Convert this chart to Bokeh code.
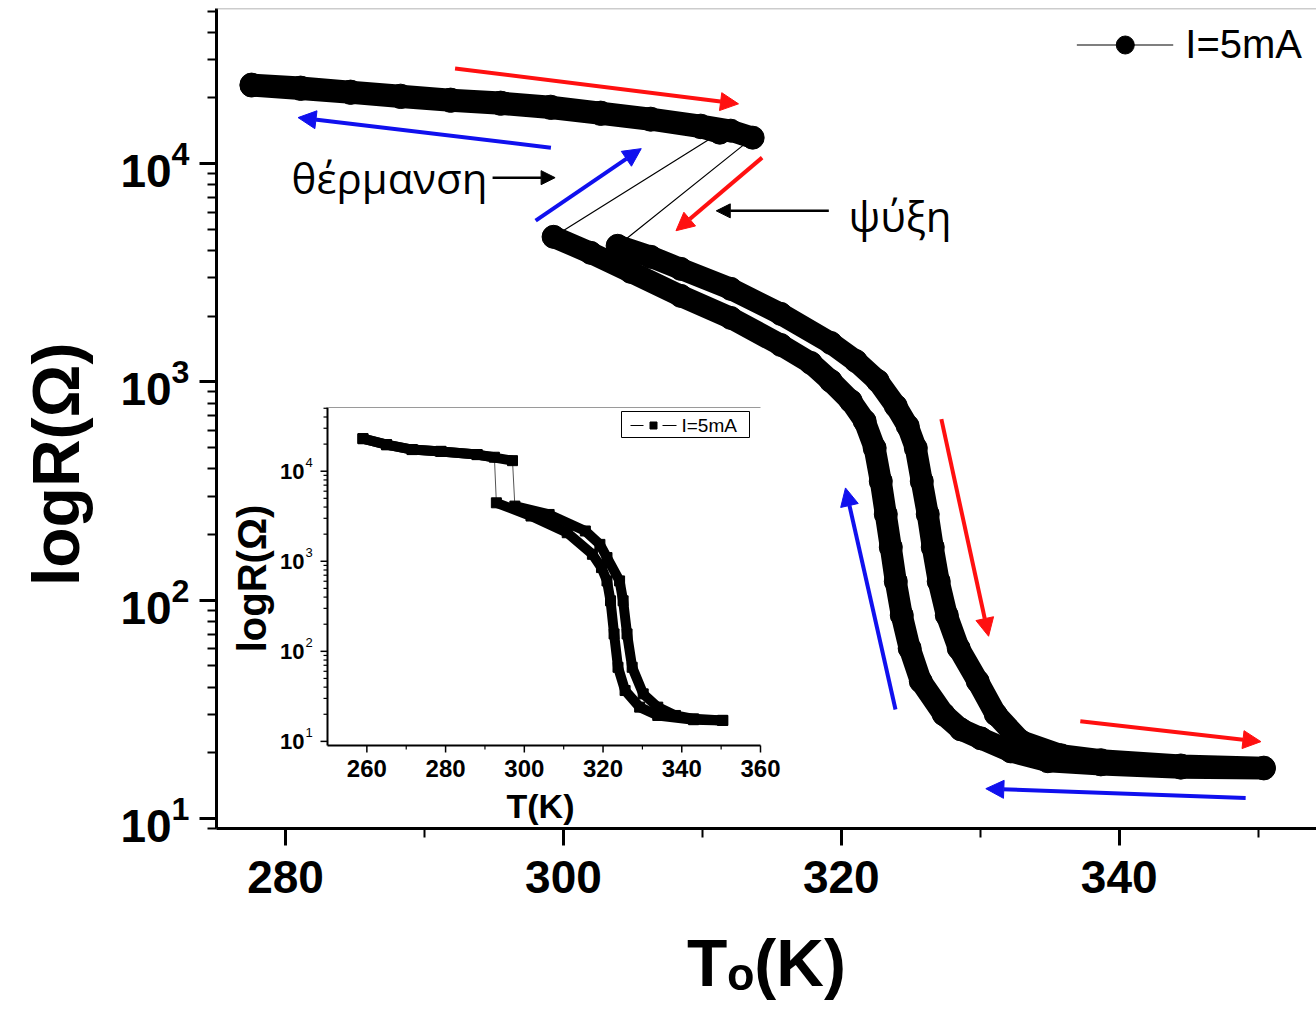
import math
from bokeh.plotting import figure
from bokeh.models import (Range1d, LogScale, FixedTicker, Arrow, NormalHead, Label,
                          Legend, LegendItem, Span)
from bokeh.core.properties import value
from bokeh.embed import file_html
from bokeh.resources import INLINE

# ---------------- main panel: R versus T_o, I = 5 mA ----------------
# heating: insulating branch, then the metallic branch after the jump
heat_upper_T = [277.55, 281.08, 284.68, 288.28, 291.88, 295.48, 299.08, 302.68,
                306.28, 309.88, 312.04, 313.62]
heat_upper_R = [23040, 22320, 21390, 20500, 19660, 19050, 18250, 17140,
                16080, 14940, 14170, 13160]
heat_lower_T = [303.90, 306.28, 308.44, 312.04, 315.64, 319.24, 321.04, 322.62, 323.92,
                324.78, 325.36, 325.79, 326.22, 326.58, 327.01, 327.59, 328.45, 329.82,
                331.12, 332.92, 335.80, 338.68, 344.43, 350.41]
heat_lower_R = [4206, 3745, 3298, 2671, 2051, 1510, 1248, 1011, 776,
                628, 498, 351, 248, 175, 122, 85.4, 60.2, 42.5,
                30.0, 22.6, 19.5, 18.5, 17.5, 17.1]
# cooling: metallic branch back down, then the jump up to the insulating branch
cool_lower_T = [350.41, 344.43, 338.68, 334.86, 332.20, 330.04, 328.60, 327.37, 325.72,
                324.92, 324.35, 323.92, 323.56, 323.20, 322.84, 322.40, 321.68, 320.68,
                319.24, 317.80, 315.64, 312.04, 308.44, 304.84, 301.96, 299.29]
cool_lower_R = [16.96, 17.1, 17.7, 18.3, 20.3, 23.3, 25.6, 30.0, 42.5,
                60.2, 85.4, 122, 175, 248, 351, 498, 662, 818,
                1011, 1223, 1478, 1966, 2480, 3196, 3905, 4624]
cool_upper_T = [311.25, 309.88, 306.28, 302.68, 299.08, 295.48, 291.88, 288.28,
                284.68, 281.08, 277.55]
cool_upper_R = [13870, 14700, 15900, 16900, 18000, 18800, 19400, 20200,
                21100, 22000, 22800]

# ---------------- inset: R versus T ----------------
ins_heat_upper_T = [259.0, 265.0, 271.5, 278.8, 288.0, 297.0]
ins_heat_upper_R = [23000, 19700, 17400, 16600, 15300, 13100]
ins_heat_lower_T = [297.6, 306.3, 315.5, 319.2, 321.0, 324.2, 325.1, 326.1, 327.4, 330.2,
                    333.9, 338.4, 343.0, 350.4]
ins_heat_lower_R = [4100, 3310, 2170, 1540, 1100, 605, 364, 156, 66.5, 33.7,
                    24.0, 19.4, 17.8, 17.1]
ins_cool_lower_T = [350.4, 343.0, 333.9, 329.3, 325.6, 323.8, 322.8, 321.9, 321.0,
                    319.6, 317.3, 310.9, 301.7, 292.9]
ins_cool_lower_R = [17.1, 17.4, 19.4, 24.0, 36.7, 66.5, 156, 364, 605,
                    851, 1195, 2075, 3180, 4460]
ins_cool_upper_T = [292.4, 288.0, 278.8, 271.5, 265.0, 259.0]
ins_cool_upper_R = [14300, 15300, 16600, 17400, 19700, 23000]

main_x_ticks = [280, 300, 320, 340]
main_x_minor = [290, 310, 330, 350]
inset_x_ticks = [260, 280, 300, 320, 340, 360]
inset_x_minor = [270, 290, 310, 330, 350]
decades = [1, 2, 3, 4]
series_label = "I=5mA"

# ---------------- layout ----------------
W, H = 1316, 1017
FL, FR, FT, FB = 216, 1316, 8, 828          # plot frame on the canvas
X0, X1 = 275.03, 354.2
Y0, Y1 = 9.0, 51400.0

IN_L, IN_R, IN_T, IN_B = 327, 760, 407, 745  # inset box on the canvas
IX0, IX1 = 250.0, 360.0
IY0, IY1 = 9.0, 51000.0

BOLD = "Liberation Sans"
NBSP = "\u00a0"


def main_x(px):
    return X0 + (px - FL) * (X1 - X0) / (FR - FL)


def main_y(py):
    a, b = math.log10(Y0), math.log10(Y1)
    return 10 ** (b - (py - FT) * (b - a) / (FB - FT))


kx = (IX1 - IX0) / (IN_R - IN_L)
ky = (math.log10(IY1) - math.log10(IY0)) / (IN_B - IN_T)


def inset_x(px):
    return IX0 + (px - IN_L) * kx


def inset_y(py):
    return 10 ** (math.log10(IY1) - (py - IN_T) * ky)


p = figure(width=W, height=H, title=None,
           x_range=Range1d(X0, X1), y_range=Range1d(Y0, Y1), y_axis_type="log",
           output_backend="svg", toolbar_location=None,
           min_border_left=FL, min_border_right=W - FR,
           min_border_top=FT, min_border_bottom=H - FB)
p.outline_line_color = None
p.xgrid.visible = False
p.ygrid.visible = False
p.background_fill_color = "white"
p.border_fill_color = "white"

# inset coordinate system shares the frame
p.extra_x_ranges = {"inset": Range1d(inset_x(FL), inset_x(FR))}
p.extra_y_ranges = {"inset": Range1d(inset_y(FB), inset_y(FT))}
p.extra_y_scales = {"inset": LogScale()}

# ---------------- main axes ----------------
for ax in (p.xaxis[0], p.yaxis[0]):
    ax.axis_line_width = 3
    ax.axis_line_color = "black"
    ax.major_tick_line_width = 3
    ax.minor_tick_line_width = 2
    ax.major_tick_in = 0
    ax.major_tick_out = 17
    ax.minor_tick_in = 0
    ax.minor_tick_out = 9
    ax.major_label_text_font = BOLD
    ax.major_label_text_font_style = "bold"
    ax.major_label_text_font_size = "46px"
    ax.major_label_text_color = "black"
    ax.axis_label_text_font = BOLD
    ax.axis_label_text_font_style = "bold"
    ax.axis_label_text_color = "black"

p.xaxis.ticker = FixedTicker(ticks=main_x_ticks, minor_ticks=main_x_minor)
p.xaxis.major_label_standoff = 15
p.xaxis.axis_label = "T\u2092(K)"
p.xaxis.axis_label_text_font_size = "66px"
p.xaxis.axis_label_standoff = 30

minor_log = [m * 10 ** k for k in range(0, 5) for m in range(2, 10)]
p.yaxis.ticker = FixedTicker(ticks=[10 ** k for k in decades], minor_ticks=minor_log)
p.yaxis.major_label_standoff = 10
# trailing no-break spaces lower the rotated title a little below the frame centre
p.yaxis.axis_label = "logR(Ω)" + NBSP * 5
p.yaxis.axis_label_text_font_size = "66px"
p.yaxis.axis_label_standoff = 24

p.add_layout(Span(location=Y1, dimension="width", line_color="#9a9a9a", line_width=1.5))

# ---------------- main curves ----------------
thin = p.line(heat_upper_T + heat_lower_T, heat_upper_R + heat_lower_R,
              line_width=1.2, line_color="black")
p.line(cool_lower_T + cool_upper_T, cool_lower_R + cool_upper_R,
       line_width=1.2, line_color="black")
for T, R in ((heat_upper_T, heat_upper_R), (heat_lower_T, heat_lower_R),
             (cool_lower_T, cool_lower_R), (cool_upper_T, cool_upper_R)):
    p.line(T, R, line_width=22, line_color="black", line_cap="round", line_join="round")
dots = p.scatter(heat_upper_T + heat_lower_T + cool_lower_T + cool_upper_T,
                 heat_upper_R + heat_lower_R + cool_lower_R + cool_upper_R,
                 marker="circle", size=23, fill_color="black", line_color="black")

legend = Legend(items=[LegendItem(label=series_label, renderers=[thin, dots])],
                location="top_right", border_line_color=None, background_fill_alpha=0,
                label_text_font="Liberation Sans", label_text_font_size="40px",
                label_text_color="black",
                glyph_width=97, glyph_height=45, margin=14, padding=8, label_standoff=12)
p.add_layout(legend)

# ---------------- direction arrows ----------------
RED, BLUE = "#ff1010", "#1010ee"
arrows = [
    (292.2, 27300, 312.6, 18800, RED),
    (299.1, 11840, 280.9, 16260, BLUE),
    (298.0, 5480, 305.6, 11720, BLUE),
    (314.3, 10660, 308.1, 4930, RED),
    (327.2, 676, 330.6, 68.4, RED),
    (323.9, 31.6, 320.3, 327, BLUE),
    (337.2, 27.9, 350.2, 22.5, RED),
    (349.1, 12.4, 330.4, 13.7, BLUE),
]
for xs, ys, xe, ye, c in arrows:
    p.add_layout(Arrow(x_start=xs, y_start=ys, x_end=xe, y_end=ye, line_color=c,
                       line_width=4, end=NormalHead(size=18, fill_color=c, line_color=c)))

for xs, ys, xe, ye in ((294.9, 8630, 299.4, 8630), (319.1, 6080, 311.0, 6080)):
    p.add_layout(Arrow(x_start=xs, y_start=ys, x_end=xe, y_end=ye, line_color="black",
                       line_width=2.5, end=NormalHead(size=14, fill_color="black",
                                                      line_color="black")))

p.add_layout(Label(x=main_x(487), y=main_y(177), text="θέρμανση", text_align="right",
                   text_baseline="middle", text_font="Open Sans", text_font_size="42px",
                   text_color="black"))
p.add_layout(Label(x=main_x(848), y=main_y(215), text="ψύξη", text_align="left",
                   text_baseline="middle", text_font="Open Sans", text_font_size="42px",
                   text_color="black"))

# ---------------- inset ----------------
ins = dict(x_range_name="inset", y_range_name="inset")
p.quad(left=[IX0], right=[IX1], bottom=[IY0], top=[IY1], fill_color="white",
       line_color=None, **ins)
p.segment(x0=[IX0, IX0], y0=[IY0, IY0], x1=[IX0, IX1], y1=[IY1, IY0],
          line_color="black", line_width=2, **ins)
p.segment(x0=[IX0], y0=[IY1], x1=[IX1], y1=[IY1], line_color="#9a9a9a", line_width=1, **ins)

# inset ticks
p.segment(x0=inset_x_ticks, y0=[IY0] * len(inset_x_ticks), x1=inset_x_ticks,
          y1=[inset_y(IN_B + 7)] * len(inset_x_ticks), line_color="black", line_width=1.5, **ins)
p.segment(x0=inset_x_minor, y0=[IY0] * len(inset_x_minor), x1=inset_x_minor,
          y1=[inset_y(IN_B + 4)] * len(inset_x_minor), line_color="black", line_width=1.2, **ins)
ymaj = [10 ** k for k in decades]
ymin = [v for v in minor_log if IY0 < v < IY1]
p.segment(x0=[IX0] * len(ymaj), y0=ymaj, x1=[inset_x(IN_L - 7)] * len(ymaj), y1=ymaj,
          line_color="black", line_width=1.5, **ins)
p.segment(x0=[IX0] * len(ymin), y0=ymin, x1=[inset_x(IN_L - 4)] * len(ymin), y1=ymin,
          line_color="black", line_width=1.2, **ins)

# inset tick labels
p.text(x=inset_x_ticks, y=[inset_y(IN_B + 23)] * len(inset_x_ticks),
       text=[str(t) for t in inset_x_ticks], text_align="center", text_baseline="middle",
       text_font=value(BOLD), text_font_style="bold", text_font_size="24px",
       text_color="black", **ins)
p.text(x=[inset_x(IN_L - 23)] * len(ymaj), y=ymaj, text=["10"] * len(ymaj),
       text_align="right", text_baseline="middle", text_font=value(BOLD),
       text_font_style="bold", text_font_size="22px", text_color="black", **ins)
p.text(x=[inset_x(IN_L - 22)] * len(ymaj), y=[v * 10 ** (9 * ky) for v in ymaj],
       text=[str(k) for k in decades], text_align="left", text_baseline="middle",
       text_font=value(BOLD), text_font_size="13px", text_color="black", **ins)

p.text(x=[inset_x(251)], y=[inset_y(578)], text=["logR(Ω)"], angle=math.pi / 2,
       text_align="center", text_baseline="middle", text_font=value(BOLD),
       text_font_style="bold", text_font_size="40px", text_color="black", **ins)
p.text(x=[inset_x(540)], y=[inset_y(805)], text=["T(K)"], text_align="center",
       text_baseline="middle", text_font=value(BOLD), text_font_style="bold",
       text_font_size="34px", text_color="black", **ins)

# inset curves: thin connecting lines first, then the thick measured bands
p.line(ins_heat_upper_T + ins_heat_lower_T, ins_heat_upper_R + ins_heat_lower_R,
       line_width=1, line_color="#555555", **ins)
p.line(ins_cool_lower_T + ins_cool_upper_T, ins_cool_lower_R + ins_cool_upper_R,
       line_width=1, line_color="#555555", **ins)
for T, R in ((ins_heat_upper_T, ins_heat_upper_R), (ins_heat_lower_T, ins_heat_lower_R),
             (ins_cool_lower_T, ins_cool_lower_R), (ins_cool_upper_T, ins_cool_upper_R)):
    p.line(T, R, line_width=10, line_color="black", line_join="round", **ins)
p.scatter(ins_heat_upper_T + ins_heat_lower_T + ins_cool_lower_T + ins_cool_upper_T,
          ins_heat_upper_R + ins_heat_lower_R + ins_cool_lower_R + ins_cool_upper_R,
          marker="square", size=10, fill_color="black", line_color="black", **ins)

# inset legend
ly = inset_y(425)
p.quad(left=[inset_x(621)], right=[inset_x(749)], bottom=[inset_y(437)], top=[inset_y(411)],
       fill_color="white", line_color="black", line_width=1, **ins)
p.segment(x0=[inset_x(630), inset_x(662)], y0=[ly, ly], x1=[inset_x(643), inset_x(676)],
          y1=[ly, ly], line_color="black", line_width=1, **ins)
p.scatter(x=[inset_x(653)], y=[ly], marker="square", size=7, fill_color="black",
          line_color="black", **ins)
p.text(x=[inset_x(681)], y=[ly], text=[series_label], text_align="left",
       text_baseline="middle", text_font=value("Liberation Sans"), text_font_size="19px",
       text_color="black", **ins)

open("out.html", "w").write(file_html(p, INLINE))
